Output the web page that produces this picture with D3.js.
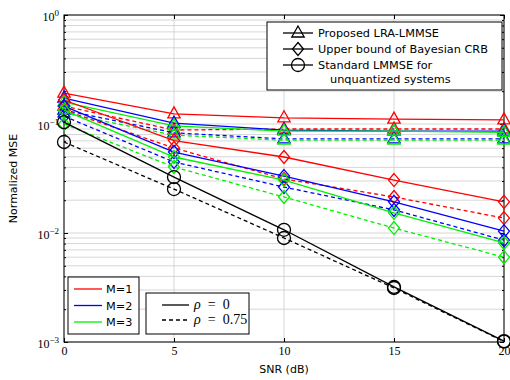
<html>
<script src='https://d3js.org/d3.v7.min.js'></script>
<style>
body {margin:0; background:#fff;}
.sans {font-family: "DejaVu Sans", sans-serif;}
.serif {font-family: "Liberation Serif", serif;}
</style>
<body onload='init()'>
<svg width=510 height=380></svg>
<script>
// SNR points (dB)
var snr = [0, 5, 10, 15, 20];

// Proposed LRA-LMMSE (triangles)
var lraM1Rho0   = [0.192, 0.124, 0.114, 0.111, 0.109];
var lraM1Rho075 = [0.146, 0.088, 0.090, 0.090, 0.090];
var lraM2Rho0   = [0.173, 0.102, 0.088, 0.086, 0.086];
var lraM2Rho075 = [0.134, 0.083, 0.073, 0.073, 0.073];
var lraM3Rho0   = [0.159, 0.096, 0.086, 0.086, 0.084];
var lraM3Rho075 = [0.126, 0.079, 0.071, 0.071, 0.071];

// Upper bound of Bayesian CRB (diamonds)
var crbM1Rho0   = [0.166, 0.0705, 0.0498, 0.0306, 0.0193];
var crbM1Rho075 = [0.134, 0.0602, 0.0313, 0.0214, 0.0137];
var crbM2Rho0   = [0.146, 0.0553, 0.0333, 0.0193, 0.0104];
var crbM2Rho075 = [0.118, 0.0448, 0.0264, 0.0163, 0.0086];
var crbM3Rho0   = [0.134, 0.0498, 0.0306, 0.0153, 0.0081];
var crbM3Rho075 = [0.100, 0.0403, 0.0214, 0.0111, 0.0060];

// Standard LMMSE, unquantized (circles)
var lmmseRho0   = [0.104, 0.0326, 0.0107, 0.0032, 0.00102];
var lmmseRho075 = [0.0684, 0.0253, 0.0090, 0.00313, 0.00101];

var xTicks = [0, 5, 10, 15, 20];
var yTicks = [1e-3, 1e-2, 1e-1, 1];
var yTickLabels = ["\u22123", "\u22122", "\u22121", "0"];

function init() {
  var left = 64, right = 504, top = 15, bottom = 342;
  var svg = d3.select("svg");

  var x = d3.scaleLinear().domain([0, 20]).range([left, right]);
  var y = d3.scaleLog().domain([1e-3, 1]).range([bottom, top]);

  var red = "#ff0000", blue = "#0000ff", green = "#00f000";

  // grid
  var grid = svg.append("g").attr("stroke", "#cccccc").attr("stroke-width", 0.8);
  grid.selectAll(".hg").data(y.ticks()).enter().append("line")
    .attr("x1", left).attr("x2", right)
    .attr("y1", function(d){ return y(d); }).attr("y2", function(d){ return y(d); });
  grid.selectAll(".vg").data(xTicks).enter().append("line")
    .attr("y1", top).attr("y2", bottom)
    .attr("x1", function(d){ return x(d); }).attr("x2", function(d){ return x(d); });

  // axes
  var minor = y.ticks().filter(function(d){ return yTicks.indexOf(d) < 0; });
  function tidy(g) { g.select(".domain").remove(); g.selectAll("line").attr("stroke", "#000"); }

  svg.append("g").attr("transform", "translate(" + left + ",0)")
    .call(d3.axisLeft(y).tickValues(minor).tickSize(-2).tickFormat("")).call(tidy);
  svg.append("g").attr("transform", "translate(" + right + ",0)")
    .call(d3.axisRight(y).tickValues(minor).tickSize(-2).tickFormat("")).call(tidy);
  svg.append("g").attr("transform", "translate(" + right + ",0)")
    .call(d3.axisRight(y).tickValues(yTicks).tickSize(-4).tickFormat("")).call(tidy);
  svg.append("g").attr("transform", "translate(0," + top + ")")
    .call(d3.axisTop(x).tickValues(xTicks).tickSize(-4).tickFormat("")).call(tidy);

  var ya = svg.append("g").attr("transform", "translate(" + left + ",0)")
    .call(d3.axisLeft(y).tickValues(yTicks).tickSize(-4).tickPadding(5).tickFormat(""))
    .call(tidy);
  ya.selectAll(".tick text").attr("class", "serif").attr("font-size", 12)
    .attr("fill", "#000").attr("dy", "0.45em")
    .each(function(d, i) {
      var t = d3.select(this);
      t.append("tspan").text("10");
      t.append("tspan").attr("font-size", 9).attr("dy", "-0.55em").text(yTickLabels[i]);
    });

  var xa = svg.append("g").attr("transform", "translate(0," + bottom + ")")
    .call(d3.axisBottom(x).tickValues(xTicks).tickSize(-4).tickPadding(4))
    .call(tidy);
  xa.selectAll(".tick text").attr("class", "serif").attr("font-size", 12).attr("fill", "#000");

  svg.append("rect").attr("x", left).attr("y", top)
    .attr("width", right - left).attr("height", bottom - top)
    .attr("fill", "none").attr("stroke", "#000").attr("stroke-width", 1);

  svg.append("text").attr("class", "sans").attr("font-size", 11)
    .attr("x", (left + right) / 2).attr("y", 373).attr("text-anchor", "middle").text("SNR (dB)");
  svg.append("text").attr("class", "sans").attr("font-size", 11)
    .attr("transform", "translate(17," + ((top + bottom) / 2) + ") rotate(-90)")
    .attr("text-anchor", "middle").text("Normalized MSE");

  // markers
  var symbols = {
    tri: "M0,-7L6.2,4L-6.2,4Z",
    dia: "M0,-6.5L5.5,0L0,6.5L-5.5,0Z",
    cir: d3.symbol().type(d3.symbolCircle).size(Math.PI * 6.5 * 6.5)()
  };

  var series = [
    {v: lraM1Rho0, c: red, dash: false, m: "tri"},
    {v: lraM1Rho075, c: red, dash: true, m: "tri"},
    {v: lraM2Rho0, c: blue, dash: false, m: "tri"},
    {v: lraM2Rho075, c: blue, dash: true, m: "tri"},
    {v: lraM3Rho0, c: green, dash: false, m: "tri"},
    {v: lraM3Rho075, c: green, dash: true, m: "tri"},
    {v: crbM1Rho0, c: red, dash: false, m: "dia"},
    {v: crbM1Rho075, c: red, dash: true, m: "dia"},
    {v: crbM2Rho0, c: blue, dash: false, m: "dia"},
    {v: crbM2Rho075, c: blue, dash: true, m: "dia"},
    {v: crbM3Rho0, c: green, dash: false, m: "dia"},
    {v: crbM3Rho075, c: green, dash: true, m: "dia"},
    {v: lmmseRho0, c: "#000", dash: false, m: "cir"},
    {v: lmmseRho075, c: "#000", dash: true, m: "cir"}
  ];

  var line = d3.line().x(function(d, i){ return x(snr[i]); }).y(function(d){ return y(d); });

  series.forEach(function(s) {
    var g = svg.append("g");
    g.append("path").attr("d", line(s.v)).attr("fill", "none")
      .attr("stroke", s.c).attr("stroke-width", 1.3)
      .attr("stroke-dasharray", s.dash ? "4,3" : null);
    g.selectAll("path.mk").data(s.v).enter().append("path").attr("class", "mk")
      .attr("d", symbols[s.m])
      .attr("transform", function(d, i){ return "translate(" + x(snr[i]) + "," + y(d) + ")"; })
      .attr("fill", "none").attr("stroke", s.c).attr("stroke-width", 1.3);
  });

  // legend: methods
  var methods = [
    {m: "tri", t: ["Proposed LRA-LMMSE"]},
    {m: "dia", t: ["Upper bound of Bayesian CRB"]},
    {m: "cir", t: ["Standard LMMSE for", "unquantized systems"]}
  ];
  var lg = svg.append("g");
  lg.append("rect").attr("x", 267).attr("y", 22).attr("width", 235).attr("height", 68)
    .attr("fill", "#fff").attr("stroke", "#000");
  methods.forEach(function(d, i) {
    var yy = 33 + i * 16;
    lg.append("line").attr("x1", 283).attr("x2", 313).attr("y1", yy).attr("y2", yy)
      .attr("stroke", "#000").attr("stroke-width", 1.3);
    lg.append("path").attr("d", symbols[d.m]).attr("transform", "translate(298," + yy + ")")
      .attr("fill", "none").attr("stroke", "#000").attr("stroke-width", 1.3);
    d.t.forEach(function(t, j) {
      lg.append("text").attr("class", "sans").attr("font-size", 11.3)
        .attr("x", j ? 330 : 318).attr("y", yy + 4 + j * 14).text(t);
    });
  });

  // legend: M
  var mNames = ["M=1", "M=2", "M=3"], mColors = [red, blue, green];
  var lm = svg.append("g");
  lm.append("rect").attr("x", 68).attr("y", 277).attr("width", 71).attr("height", 57)
    .attr("fill", "#fff").attr("stroke", "#000");
  mNames.forEach(function(t, i) {
    var yy = 289 + i * 16.5;
    lm.append("line").attr("x1", 74).attr("x2", 102).attr("y1", yy).attr("y2", yy)
      .attr("stroke", mColors[i]).attr("stroke-width", 1.3);
    lm.append("text").attr("class", "sans").attr("font-size", 11.3)
      .attr("x", 106).attr("y", yy + 4).text(t);
  });

  // legend: rho
  var rhoNames = ["0", "0.75"];
  var lr = svg.append("g");
  lr.append("rect").attr("x", 146).attr("y", 293).attr("width", 103).attr("height", 41)
    .attr("fill", "#fff").attr("stroke", "#000");
  rhoNames.forEach(function(t, i) {
    var yy = 305 + i * 15;
    lr.append("line").attr("x1", 162).attr("x2", 189).attr("y1", yy).attr("y2", yy)
      .attr("stroke", "#000").attr("stroke-width", 1.3)
      .attr("stroke-dasharray", i ? "4,3" : null);
    var tx = lr.append("text").attr("class", "serif").attr("font-size", 14)
      .attr("x", 194).attr("y", yy + 4);
    tx.append("tspan").attr("font-style", "italic").text("\u03c1");
    tx.append("tspan").text("\u2002=\u2002" + t);
  });
}
</script>
</body>
</html>
